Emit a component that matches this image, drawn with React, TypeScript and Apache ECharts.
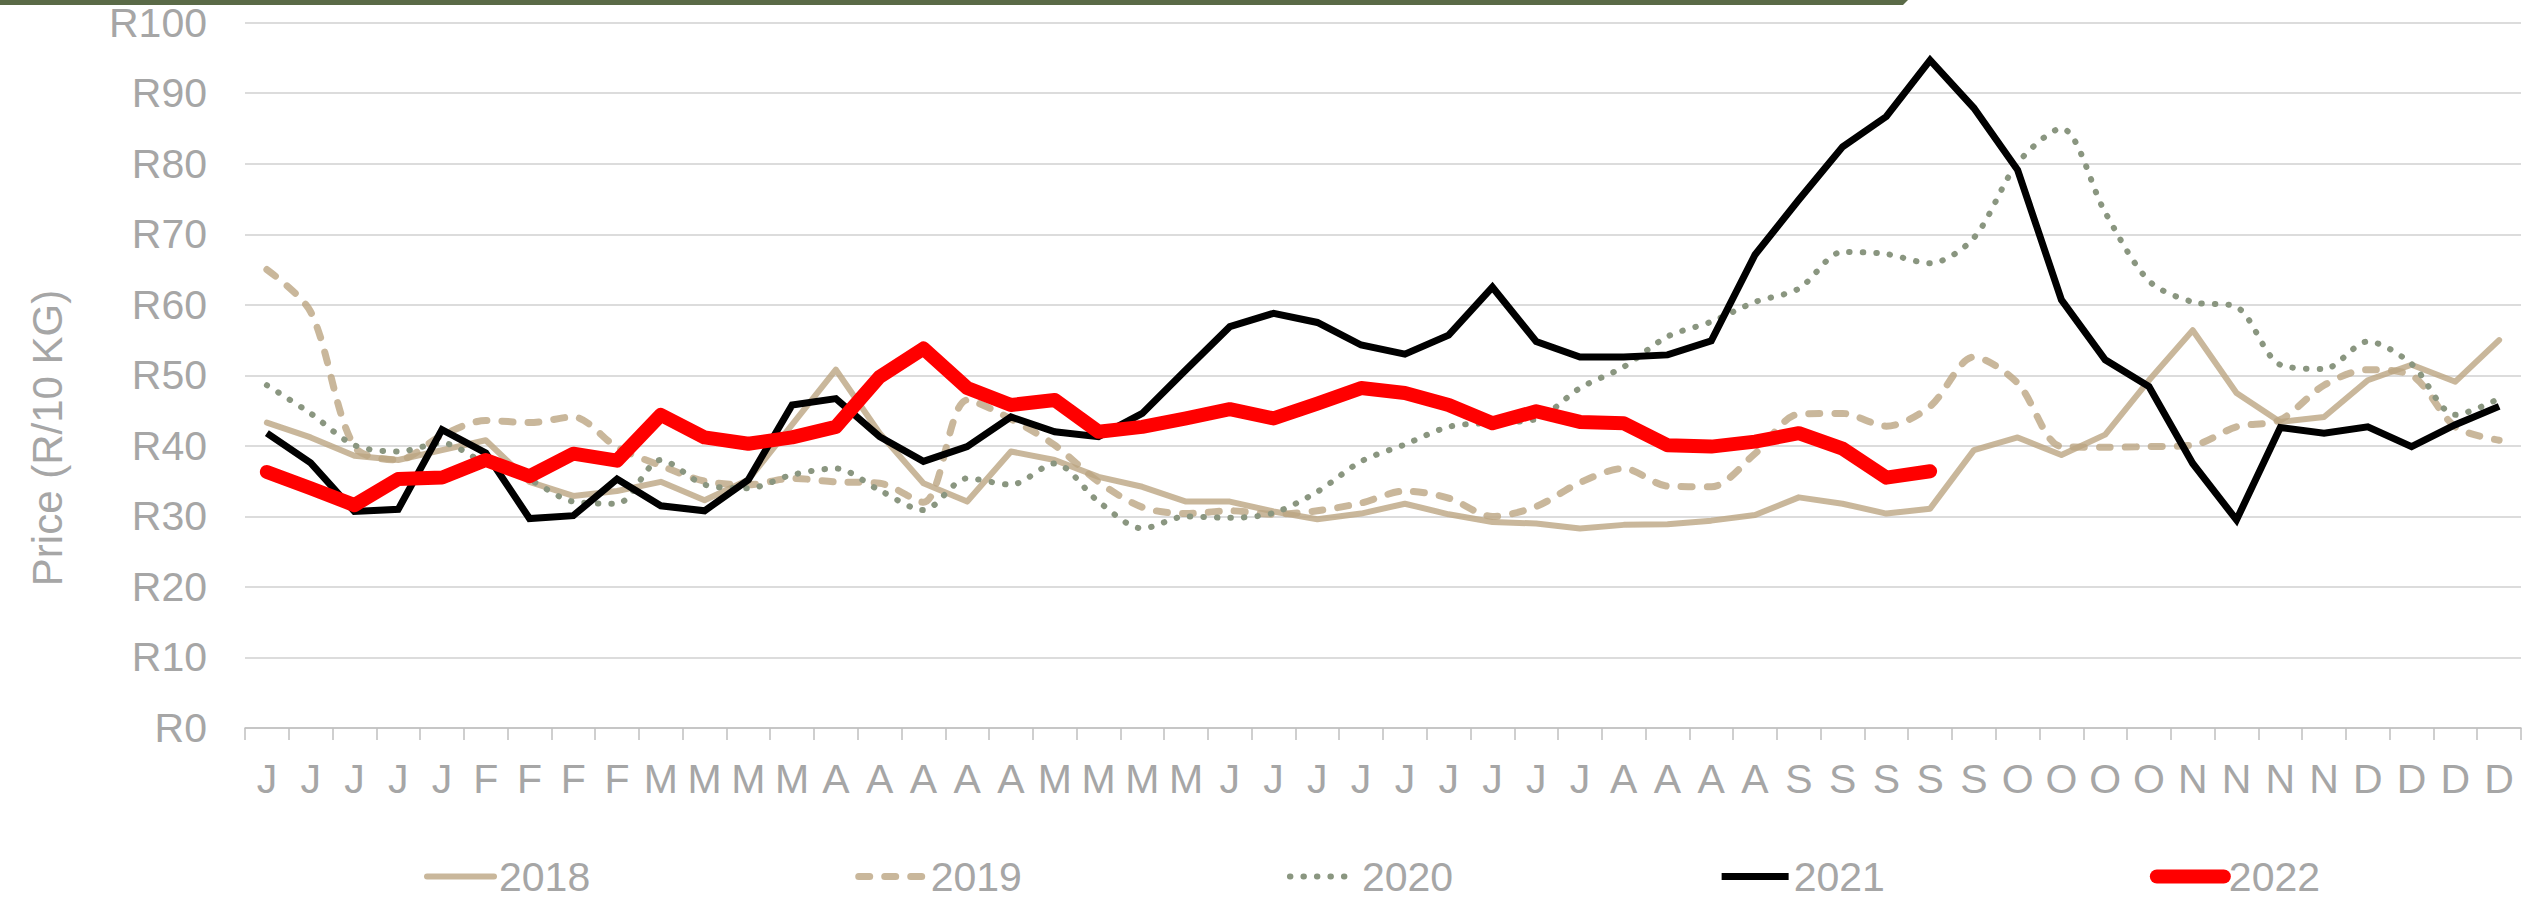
import React, { useEffect, useRef } from "react";
import * as echarts from "echarts";

const weekLabels = [
  "J","J","J","J","J","F","F","F","F","M","M","M","M","A","A","A","A","A","M","M","M","M",
  "J","J","J","J","J","J","J","J","J","A","A","A","A","S","S","S","S","S","O","O","O","O",
  "N","N","N","N","D","D","D","D",
];

const y2018 = [43.3, 41.2, 38.6, 38.0, 39.4, 40.8, 34.9, 32.9, 33.6, 34.9, 32.3, 35.2, 43.0, 50.8, 41.8, 34.7, 32.1, 39.2, 38.0, 35.6, 34.2, 32.1, 32.1, 30.7, 29.6, 30.4, 31.8, 30.3, 29.2, 29.0, 28.3, 28.8, 28.9, 29.4, 30.2, 32.7, 31.8, 30.4, 31.1, 39.4, 41.2, 38.7, 41.6, 49.3, 56.4, 47.5, 43.4, 44.1, 49.3, 51.5, 49.1, 55.0];
const y2019 = [65.0, 59.0, 39.9, 38.0, 41.5, 43.6, 43.3, 44.1, 39.8, 37.2, 35.0, 34.5, 35.4, 34.9, 34.7, 32.0, 46.5, 43.8, 40.1, 34.9, 31.3, 30.4, 30.8, 30.3, 30.8, 31.9, 33.6, 32.6, 30.0, 31.4, 34.8, 36.8, 34.3, 34.2, 38.9, 44.5, 44.6, 42.8, 45.6, 52.6, 48.9, 39.9, 39.8, 39.9, 40.1, 42.7, 43.7, 48.6, 50.8, 50.0, 42.7, 40.8];
const y2020 = [48.6, 44.6, 40.1, 39.2, 40.4, 37.5, 35.2, 32.1, 31.8, 38.0, 34.5, 34.0, 35.9, 36.8, 33.7, 30.9, 35.4, 34.5, 37.5, 32.1, 28.3, 30.0, 29.8, 30.5, 33.5, 37.8, 40.2, 42.7, 43.3, 43.8, 48.2, 51.2, 55.5, 57.6, 60.4, 62.3, 67.5, 67.2, 65.9, 69.5, 80.1, 85.0, 73.1, 63.4, 60.4, 59.7, 51.5, 50.9, 54.8, 51.6, 44.4, 46.7];
const y2021 = [41.8, 37.6, 30.7, 31.0, 42.3, 39.0, 29.7, 30.1, 35.3, 31.5, 30.8, 35.2, 45.8, 46.7, 41.3, 37.8, 39.9, 44.1, 42.0, 41.3, 44.6, 50.8, 56.9, 58.8, 57.5, 54.3, 53.0, 55.7, 62.5, 54.8, 52.6, 52.6, 52.9, 54.9, 67.1, 74.9, 82.4, 86.7, 94.7, 87.9, 79.1, 60.7, 52.2, 48.4, 37.5, 29.5, 42.6, 41.8, 42.7, 39.9, 43.0, 45.6];
const y2022 = [36.3, 34.0, 31.6, 35.3, 35.5, 38.0, 35.7, 38.9, 37.9, 44.4, 41.2, 40.3, 41.2, 42.7, 49.8, 53.8, 48.2, 45.8, 46.5, 42.0, 42.7, 43.9, 45.2, 43.9, 46.0, 48.2, 47.5, 45.8, 43.2, 44.9, 43.4, 43.2, 40.1, 39.9, 40.6, 41.8, 39.6, 35.5, 36.4];

const yTicks = { min: 0, max: 100, step: 10 };
const seriesNames = ["2018", "2019", "2020", "2021", "2022"];
const yTitle = "Price (R/10 KG)";

const FONT = "'Liberation Sans', Arial, sans-serif";
const GRAY = "#A6A6A6";
const TAN = "#BCA582";

export default function App() {
  const ref = useRef<HTMLDivElement>(null);
  useEffect(() => {
    document.body.style.margin = "0";
    const chart = echarts.init(ref.current!, null, { renderer: "svg" });
    const common = { type: "line", symbol: "none", showSymbol: false, animation: false };
    chart.setOption({
      animation: false,
      backgroundColor: "#ffffff",
      textStyle: { fontFamily: FONT },
      grid: { left: 245, right: 5, top: 22.7, bottom: 171, containLabel: false },
      xAxis: {
        type: "category",
        data: weekLabels,
        boundaryGap: true,
        axisLine: { show: true, lineStyle: { color: "#BFBFBF", width: 1.5 } },
        axisTick: { show: true, interval: 0, length: 12, lineStyle: { color: "#BFBFBF", width: 1.5 } },
        axisLabel: { interval: 0, fontSize: 41, color: GRAY, margin: 30, fontFamily: FONT },
        splitLine: { show: false },
      },
      yAxis: {
        type: "value",
        min: yTicks.min,
        max: yTicks.max,
        interval: yTicks.step,
        axisLine: { show: false },
        axisTick: { show: false },
        axisLabel: { formatter: "R{value}", fontSize: 41, color: GRAY, margin: 38, fontFamily: FONT },
        splitLine: { show: true, lineStyle: { color: "#D0D0D0", width: 1.5 } },
      },
      legend: {
        data: seriesNames,
        left: 419,
        top: 851,
        padding: 5,
        itemWidth: 67,
        itemHeight: 20,
        itemGap: 265,
        itemStyle: { opacity: 0, borderWidth: 0 },
        lineStyle: { width: "inherit", cap: "inherit", type: "inherit", join: "inherit" },
        textStyle: { fontSize: 41, color: GRAY, fontFamily: FONT },
      },
      graphic: [
        {
          type: "polygon",
          shape: { points: [[0, 0], [1908, 0], [1903, 5], [0, 5]] },
          style: { fill: "#5A6A47" },
          silent: true,
        },
        {
          type: "text",
          x: 47,
          y: 438,
          rotation: Math.PI / 2,
          style: {
            text: yTitle,
            fontSize: 42,
            fill: GRAY,
            fontFamily: FONT,
            align: "center",
            verticalAlign: "middle",
          },
        },
      ],
      series: [
        {
          ...common,
          name: seriesNames[0],
          data: y2018,
          itemStyle: { color: TAN, opacity: 0.8 },
          lineStyle: { color: TAN, width: 6, opacity: 0.8, cap: "round", join: "round" },
        },
        {
          ...common,
          name: seriesNames[1],
          data: y2019,
          smooth: 0.3,
          itemStyle: { color: TAN, opacity: 0.8 },
          lineStyle: { color: TAN, width: 7, opacity: 0.8, type: [11, 15], cap: "round", join: "round" },
        },
        {
          ...common,
          name: seriesNames[2],
          data: y2020,
          smooth: 0.3,
          itemStyle: { color: "#8A9680" },
          lineStyle: { color: "#8A9680", width: 6, type: [0.5, 13], cap: "round", join: "round" },
        },
        {
          ...common,
          name: seriesNames[3],
          data: y2021,
          itemStyle: { color: "#000000" },
          lineStyle: { color: "#000000", width: 7, join: "miter" },
        },
        {
          ...common,
          name: seriesNames[4],
          data: y2022,
          itemStyle: { color: "#FF0000" },
          lineStyle: { color: "#FF0000", width: 14, cap: "round", join: "round" },
        },
      ],
    });
    return () => chart.dispose();
  }, []);
  return (
    <div
      ref={ref}
      style={{ position: "absolute", left: 0, top: 0, width: 2526, height: 899 }}
    />
  );
}
